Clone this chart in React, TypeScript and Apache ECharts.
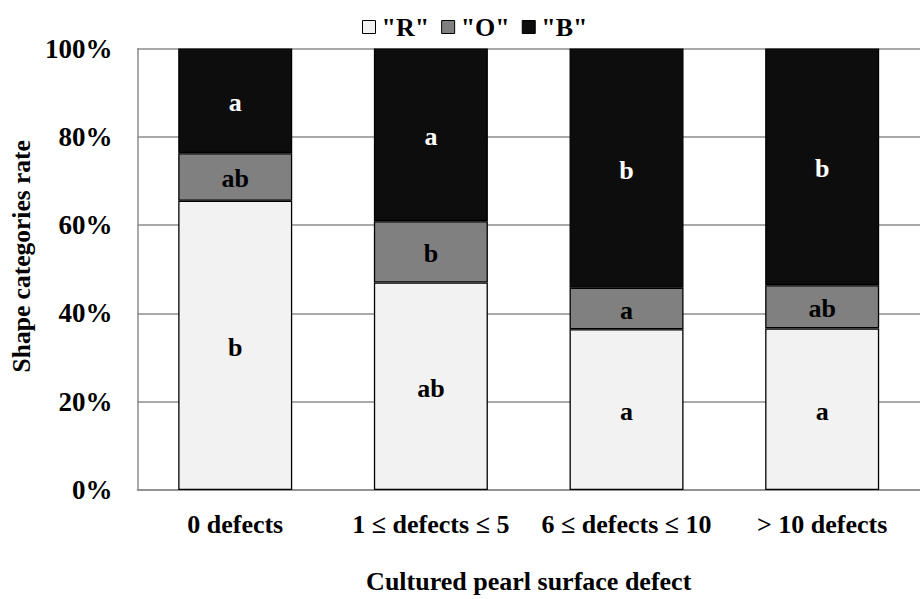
import React, { useEffect, useRef } from "react";
import * as echarts from "echarts";

const categories = ["0 defects", "1 ≤ defects ≤ 5", "6 ≤ defects ≤ 10", "> 10 defects"];
const seriesNames = ['"R"', '"O"', '"B"'];
const valuesR = [65.5, 47.0, 36.4, 36.6];
const valuesO = [10.8, 13.9, 9.4, 9.8];
const valuesB = [23.7, 39.1, 54.2, 53.6];
const lettersR = ["b", "ab", "a", "a"];
const lettersO = ["ab", "b", "a", "ab"];
const lettersB = ["a", "a", "b", "b"];
const yTicks = [0, 20, 40, 60, 80, 100];

const FONT = "'Liberation Serif', 'Times New Roman', serif";

export default function App() {
  const ref = useRef<HTMLDivElement>(null);
  useEffect(() => {
    if (!ref.current) return;
    const chart = echarts.init(ref.current, undefined, { renderer: "svg" });
    const mk = (
      name: string,
      vals: number[],
      letters: string[],
      color: string,
      textColor: string
    ) => ({
      name,
      type: "bar",
      stack: "total",
      barWidth: 114,
      data: vals.map((v, i) => ({ value: v, letter: letters[i] })),
      itemStyle: { color, borderColor: "#000", borderWidth: 1.3 },
      label: {
        show: true,
        position: "inside",
        formatter: (p: any) => p.data.letter,
        color: textColor,
        fontFamily: FONT,
        fontWeight: "bold",
        fontSize: 26,
        offset: [0, 2],
      },
    });
    chart.setOption({
      animation: false,
      textStyle: { fontFamily: FONT },
      legend: {
        top: 9,
        left: 357,
        itemWidth: 13,
        itemHeight: 13,
        itemGap: 12,
        icon: "rect",
        textStyle: { fontFamily: FONT, fontWeight: "bold", fontSize: 26, color: "#000", padding: [0, 0, 0, 1] },
        data: seriesNames.map((n) => ({ name: n, itemStyle: { borderColor: "#000", borderWidth: 1 } })),
      },
      grid: { left: 135, top: 48.5, width: 794, height: 441.5, containLabel: false },
      xAxis: {
        type: "category",
        data: categories,
        name: "Cultured pearl surface defect",
        nameLocation: "middle",
        nameGap: 78,
        nameTextStyle: { fontFamily: FONT, fontWeight: "bold", fontSize: 26, color: "#000" },
        axisLine: { lineStyle: { color: "#8c8c8c", width: 1.5 } },
        axisTick: { show: false },
        axisLabel: {
          interval: 0,
          hideOverlap: false,
          fontFamily: FONT,
          fontWeight: "bold",
          fontSize: 26,
          color: "#000",
          margin: 21,
        },
      },
      yAxis: {
        type: "value",
        min: 0,
        max: 100,
        interval: 20,
        name: "Shape categories rate",
        nameLocation: "middle",
        nameGap: 95,
        nameTextStyle: {
          fontFamily: FONT,
          fontWeight: "bold",
          fontSize: 25.5,
          color: "#000",
          padding: [0, 0, 0, 26],
        },
        axisLine: { show: true, lineStyle: { color: "#8c8c8c", width: 1.5 } },
        axisTick: { show: false },
        axisLabel: {
          fontFamily: FONT,
          fontWeight: "bold",
          fontSize: 27,
          color: "#000",
          margin: 25,
          formatter: (v: number) => (yTicks.includes(v) ? v + "%" : ""),
        },
        splitLine: { lineStyle: { color: "#8c8c8c", width: 1.5 } },
      },
      series: [
        mk(seriesNames[0], valuesR, lettersR, "#f2f2f2", "#000"),
        mk(seriesNames[1], valuesO, lettersO, "#808080", "#000"),
        mk(seriesNames[2], valuesB, lettersB, "#0d0d0d", "#fff"),
      ],
    });
    return () => chart.dispose();
  }, []);
  return (
    <div
      ref={ref}
      style={{ position: "fixed", left: 0, top: 0, width: 920, height: 599, background: "#fff" }}
    />
  );
}
